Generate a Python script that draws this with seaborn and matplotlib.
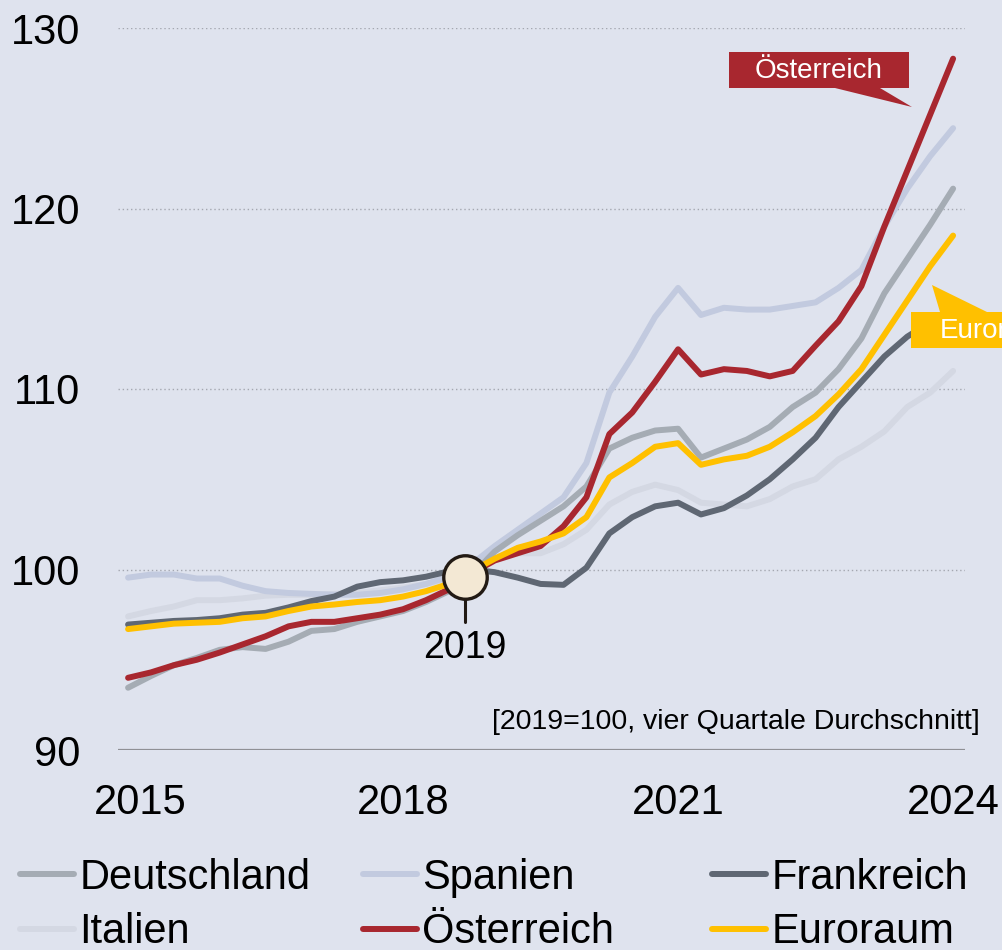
import numpy as np
import pandas as pd
import matplotlib
matplotlib.use("Agg")
import matplotlib.pyplot as plt
import seaborn as sns
from matplotlib.patches import Polygon
from matplotlib.lines import Line2D
from matplotlib.transforms import ScaledTranslation

# ---------------- data (quarterly, 2015Q1 .. 2024Q1, 2019 = 100) ----------------
quarters = [f"{y}Q{q}" for y in range(2015, 2025) for q in range(1, 5)][:37]

deutschland = [93.45, 94.1, 94.7, 95.1, 95.55, 95.7, 95.6, 96.0, 96.6, 96.7,
               97.1, 97.4, 97.7, 98.2, 98.8, 99.7, 101.0, 101.9, 102.7, 103.5,
               104.6, 106.7, 107.3, 107.7, 107.8, 106.2, 106.7, 107.2, 107.9, 109.0,
               109.8, 111.1, 112.8, 115.3, 117.2, 119.1, 121.1]
spanien = [99.55, 99.72, 99.72, 99.5, 99.5, 99.1, 98.8, 98.7, 98.65, 98.6,
           98.6, 98.7, 98.9, 99.2, 99.6, 100.3, 101.3, 102.2, 103.1, 104.0,
           105.9, 109.8, 111.8, 114.0, 115.6, 114.1, 114.5, 114.4, 114.4, 114.6,
           114.8, 115.6, 116.6, 119.0, 121.1, 122.9, 124.45]
frankreich = [96.95, 97.05, 97.15, 97.2, 97.3, 97.5, 97.6, 97.9, 98.25, 98.5,
              99.05, 99.3, 99.4, 99.6, 99.9, 100.0, 99.85, 99.55, 99.2, 99.15,
              100.1, 102.0, 102.9, 103.5, 103.7, 103.05, 103.4, 104.1, 105.0, 106.1,
              107.3, 109.0, 110.4, 111.8, 112.9, 113.7, 114.4]
italien = [97.4, 97.7, 97.95, 98.3, 98.3, 98.4, 98.55, 98.6, 98.6, 98.65,
           98.7, 98.85, 99.0, 99.2, 99.5, 100.1, 100.7, 100.9, 100.9, 101.4,
           102.2, 103.6, 104.3, 104.7, 104.4, 103.7, 103.6, 103.5, 103.9, 104.6,
           105.0, 106.1, 106.8, 107.65, 109.0, 109.8, 111.0]
oesterreich = [94.0, 94.3, 94.7, 95.0, 95.4, 95.85, 96.3, 96.85, 97.1, 97.1,
               97.3, 97.5, 97.8, 98.3, 98.9, 99.8, 100.5, 100.9, 101.3, 102.4,
               104.0, 107.5, 108.7, 110.4, 112.2, 110.8, 111.1, 111.0, 110.7, 111.0,
               112.4, 113.75, 115.7, 119.0, 122.1, 125.2, 128.3]
euroraum = [96.7, 96.85, 97.0, 97.05, 97.1, 97.3, 97.4, 97.7, 97.95, 98.06,
            98.2, 98.3, 98.5, 98.8, 99.2, 99.9, 100.6, 101.2, 101.55, 102.0,
            102.9, 105.1, 105.9, 106.8, 107.0, 105.8, 106.1, 106.3, 106.8, 107.6,
            108.5, 109.7, 111.1, 113.0, 114.9, 116.8, 118.5]

legend_order = ["Deutschland", "Italien", "Spanien", "Österreich", "Frankreich", "Euroraum"]
draw_order = ["Italien", "Spanien", "Deutschland", "Frankreich", "Österreich", "Euroraum"]
colors = {"Deutschland": "#a5acb4", "Spanien": "#c2cadf", "Frankreich": "#5f6773",
          "Italien": "#d4d8e3", "Österreich": "#a8272f", "Euroraum": "#ffc000"}

xtick_pos = [0, 12, 24, 36]
xtick_labels = ["2015", "2018", "2021", "2024"]
ytick_vals = [90, 100, 110, 120, 130]

ref_x, ref_y, ref_label = 14.7, 99.56, "2019"
note = "[2019=100, vier Quartale Durchschnitt]"

series = {"Deutschland": deutschland, "Spanien": spanien, "Frankreich": frankreich,
          "Italien": italien, "Österreich": oesterreich, "Euroraum": euroraum}
df = pd.DataFrame({"q": np.arange(len(quarters)), **series})
long = df.melt(id_vars="q", var_name="Land", value_name="Index")

# ---------------- style ----------------
BG = "#dfe3ee"
sns.set_style("white", {"axes.facecolor": BG, "figure.facecolor": BG})
plt.rcParams["font.family"] = ["Liberation Sans", "DejaVu Sans"]
plt.rcParams["text.color"] = "black"

W, H = 1003, 950
fig = plt.figure(figsize=(W / 100, H / 100), dpi=100)
fig.patch.set_facecolor(BG)
ax = fig.add_axes([118 / W, 1 - 750 / H, (965 - 118) / W, (750 - 28) / H])
ax.set_facecolor(BG)

sns.lineplot(data=long, x="q", y="Index", hue="Land", hue_order=draw_order,
             palette=colors, linewidth=4.3, legend=False, ax=ax,
             solid_capstyle="round", solid_joinstyle="round")

ax.set_xlim(-0.44, 36.52)
ax.set_ylim(90, 130)
ax.set_xlabel("")
ax.set_ylabel("")
for s in ax.spines.values():
    s.set_visible(False)

ax.set_yticks(ytick_vals)
ax.set_yticklabels([str(v) for v in ytick_vals])
ax.yaxis.grid(True, linestyle=(0, (1, 2)), color="#a4a7b0", linewidth=1.0)
ax.xaxis.grid(False)
ax.set_axisbelow(True)
ax.axhline(90, color="#8f9095", linewidth=1.6, zorder=1)
ax.tick_params(axis="y", length=0, pad=27, labelsize=30, labelcolor="black")
ax.set_xticks(xtick_pos)
ax.set_xticklabels(xtick_labels)
ax.tick_params(axis="x", length=0, pad=24, labelsize=30, labelcolor="black")
first = ax.get_xticklabels()[0]
first.set_transform(first.get_transform() + ScaledTranslation(0.12, 0, fig.dpi_scale_trans))

# reference point 2019
ax.scatter([ref_x], [ref_y], s=980, facecolor="#f3e8d4", edgecolor="#221a14",
           linewidth=2.4, zorder=10)
ax.plot([ref_x, ref_x], [98.34, 97.1], color="#221a14", linewidth=2.2, zorder=9)
ax.text(ref_x, 95.67, ref_label, ha="center", va="center", fontsize=27, color="black")

ax.text(980 / W, 1 - 722 / H, note, transform=fig.transFigure, ha="right",
        va="center", fontsize=20.5, color="black")

# label callouts (figure pixel coordinates)
def px(x, y):
    return (x / W, 1 - y / H)

red = colors["Österreich"]
fig.patches.append(Polygon([px(729, 52), px(909, 52), px(909, 88), px(880, 88),
                            px(912, 107), px(835, 88), px(729, 88)], closed=True,
                           transform=fig.transFigure, facecolor=red, edgecolor="none",
                           zorder=20))
fig.text(*px(819, 71), "Österreich", ha="center", va="center", fontsize=20,
         color="white", zorder=21)

yel = colors["Euroraum"]
fig.patches.append(Polygon([px(932, 285), px(987, 312), px(1040, 312), px(1040, 348),
                            px(911, 348), px(911, 312), px(940, 312)], closed=True,
                           transform=fig.transFigure, facecolor=yel, edgecolor="none",
                           zorder=20))
fig.text(*px(940, 331), "Euroraum", ha="left", va="center", fontsize=20,
         color="white", zorder=21)

# legend: three columns at fixed positions
cols = [legend_order[0:2], legend_order[2:4], legend_order[4:6]]
col_x = [20, 363, 712]
for names, x0 in zip(cols, col_x):
    handles = [Line2D([], [], color=colors[n], linewidth=4.3, solid_capstyle="round")
               for n in names]
    leg = fig.legend(handles, names, loc="upper left", bbox_to_anchor=px(x0, 858),
                     bbox_transform=fig.transFigure, frameon=False, fontsize=30,
                     handlelength=1.3, handletextpad=0.12, borderpad=0,
                     borderaxespad=0, labelspacing=0.34, labelcolor="black")

fig.savefig("out.png", dpi=100, facecolor=BG)
